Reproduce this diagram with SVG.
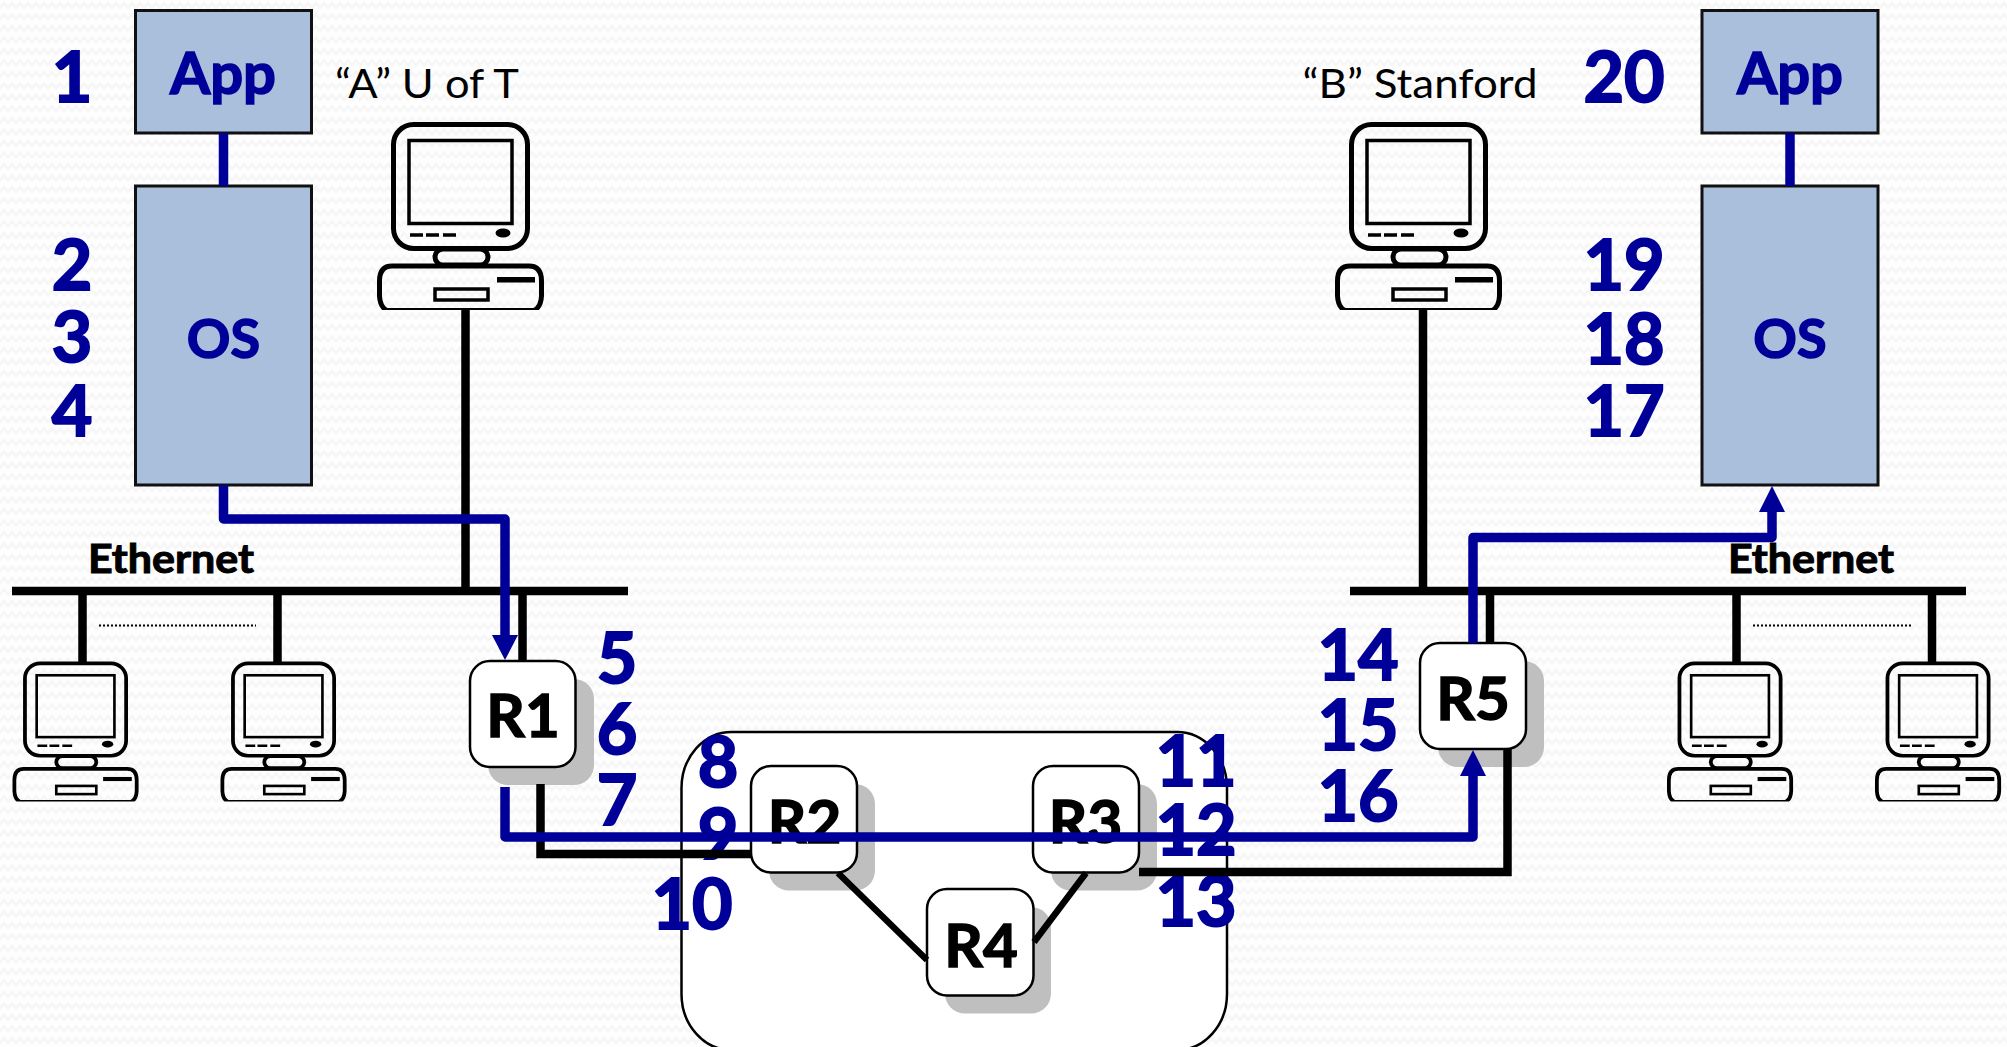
<svg xmlns="http://www.w3.org/2000/svg" width="2007" height="1047" viewBox="0 0 2007 1047">
<style>
text{font-family:Lato,"Liberation Sans",sans-serif}
.n{font-size:70px;font-weight:700;fill:#000099;stroke:#000099;stroke-width:2;text-anchor:middle}
.box{fill:#aabfdc;stroke:#111;stroke-width:3}
.bl{font-weight:700;fill:#000099;stroke:#000099;stroke-width:1.5;text-anchor:middle}
.eth{font-size:40px;font-weight:700;fill:#000;stroke:#000;stroke-width:1;text-anchor:middle}
.lab{font-size:41px;fill:#000;text-anchor:middle}
.rt{font-size:60px;font-weight:700;fill:#000;stroke:#000;stroke-width:1.5;text-anchor:middle}
.rb{fill:#fff;stroke:#000;stroke-width:2.5}
.sh{fill:#bfbfbf;stroke:none}
.k{fill:none;stroke:#000;stroke-width:8.5}
.k2{fill:none;stroke:#000;stroke-width:6.5}
.b{fill:none;stroke:#000099;stroke-width:9.5;stroke-linejoin:round}
.d{fill:none;stroke:#000;stroke-width:2;stroke-dasharray:2 2}
.ah{fill:#000099}
.m{fill:none;stroke:#000;stroke-width:5}
.m1{fill:none;stroke:#000;stroke-width:3.5}
</style>
<defs>
<pattern id="bgp" width="16" height="11.5" patternUnits="userSpaceOnUse">
<rect width="16" height="11.5" fill="#fefefe"/>
<path d="M0 8 L4 3 L8 8 L12 3 L16 8" fill="none" stroke="#f6f6f6" stroke-width="2.5"/>
</pattern>
<clipPath id="pcclip"><rect x="-2" y="-2" width="172" height="190"/></clipPath>
<symbol id="pc" viewBox="0 0 167 188" width="167" height="188" overflow="visible" preserveAspectRatio="none">
<rect class="m" x="58" y="127" width="53" height="16" rx="8" ry="8"/>
<rect class="m" x="16.500" y="2.500" width="134" height="124" rx="20" ry="20"/>
<rect class="m1" x="32" y="18.500" width="103" height="83"/>
<path d="M33 113h13M49 113h13M66 113h13" stroke="#000" stroke-width="3.500" fill="none"/>
<ellipse cx="126" cy="111" rx="7.500" ry="4.500" fill="#000"/>
<path class="m" clip-path="url(#pcclip)" d="M2.500 174 V159 Q2.500 144 15 144 H152 Q164.500 144 164.500 159 V174 Q164 185 157 188.500 H10 Q3 185 2.500 174 Z"/>
<rect class="m1" x="58" y="167" width="53" height="11"/>
<rect x="120" y="155" width="38" height="5.500" fill="#000"/>
</symbol>
</defs>
<rect id="background" width="2007" height="1047" fill="url(#bgp)"/>

<g id="cloud"><rect x="681.500" y="732" width="545.500" height="318" rx="50" ry="56" fill="#fff" stroke="#000" stroke-width="2.500"/></g>

<g id="numbers">
<text class="n" x="72" y="102">1</text>
<text class="n" x="72" y="290">2</text>
<text class="n" x="72" y="362">3</text>
<text class="n" x="72" y="436">4</text>
<text class="n" x="617" y="683">5</text>
<text class="n" x="617" y="754">6</text>
<text class="n" x="617" y="825">7</text>
<text class="n" x="718" y="787">8</text>
<text class="n" x="718" y="859">9</text>
<text class="n" x="692" y="929">10</text>
<text class="n" x="1196" y="786">11</text>
<text class="n" x="1196" y="855">12</text>
<text class="n" x="1196" y="926">13</text>
<text class="n" x="1358" y="680">14</text>
<text class="n" x="1358" y="750">15</text>
<text class="n" x="1358" y="821">16</text>
<text class="n" x="1624" y="436">17</text>
<text class="n" x="1624" y="364">18</text>
<text class="n" x="1624" y="290">19</text>
<text class="n" x="1624" y="102">20</text>
</g>

<g id="app-a"><rect class="box" x="135.500" y="10.500" width="176" height="122.500"/><text class="bl" style="font-size:58px" x="223" y="94">App</text></g>
<g id="os-a"><rect class="box" x="135.500" y="186" width="176" height="299"/><text class="bl" style="font-size:54px" x="223.500" y="358">OS</text></g>
<g id="app-b"><rect class="box" x="1702" y="10.500" width="176" height="122.500"/><text class="bl" style="font-size:58px" x="1790" y="94">App</text></g>
<g id="os-b"><rect class="box" x="1702" y="186" width="176" height="299"/><text class="bl" style="font-size:54px" x="1790" y="358">OS</text></g>

<g id="host-a"><use href="#pc" x="377" y="122"/><text class="lab" x="427" y="98" textLength="184" lengthAdjust="spacingAndGlyphs">“A” U of T</text></g>
<g id="host-b"><use href="#pc" x="1335" y="122"/><text class="lab" x="1420" y="98" textLength="235" lengthAdjust="spacingAndGlyphs">“B” Stanford</text></g>

<g id="host-a1"><use href="#pc" transform="translate(12.500 661.500) scale(.755 .745)"/></g>
<g id="host-a2"><use href="#pc" transform="translate(220.500 661.500) scale(.755 .745)"/></g>
<g id="host-b1"><use href="#pc" transform="translate(1667 661.500) scale(.755 .745)"/></g>
<g id="host-b2"><use href="#pc" transform="translate(1875 661.500) scale(.755 .745)"/></g>

<g id="ethernet-a"><text class="eth" x="171" y="573" textLength="166" lengthAdjust="spacingAndGlyphs">Ethernet</text></g>
<g id="ethernet-b"><text class="eth" x="1811" y="573" textLength="166" lengthAdjust="spacingAndGlyphs">Ethernet</text></g>

<g id="R1"><rect class="sh" x="488" y="679" width="106" height="106" rx="20"/><rect class="rb" x="470" y="661" width="105.500" height="106" rx="20"/><text class="rt" x="523" y="737">R1</text></g>
<g id="R2"><rect class="sh" x="769" y="784" width="106" height="106.500" rx="20"/><rect class="rb" x="751" y="766" width="106" height="106.500" rx="20"/><text class="rt" x="804.500" y="843">R2</text></g>
<g id="R3"><rect class="sh" x="1051" y="784" width="106" height="106.500" rx="20"/><rect class="rb" x="1033" y="766" width="106" height="106.500" rx="20"/><text class="rt" x="1085.500" y="843">R3</text></g>
<g id="R4"><rect class="sh" x="945" y="907" width="106" height="106.500" rx="20"/><rect class="rb" x="927" y="889" width="106.500" height="106.500" rx="20"/><text class="rt" x="981" y="967">R4</text></g>
<g id="R5"><rect class="sh" x="1438" y="661" width="106" height="106" rx="20"/><rect class="rb" x="1420" y="643" width="106" height="106" rx="20"/><text class="rt" x="1473" y="720">R5</text></g>

<g id="connectors">
<path class="k" d="M12 591H628"/>
<path class="k" d="M1350 591H1966"/>
<path class="k" d="M82.500 591V662M277.500 591V662M465.500 310V591M522.500 591V661"/>
<path class="k" d="M1423 310V591M1490 591V643M1736.500 591V662M1932 591V662"/>
<path class="d" d="M99 625.500H256M1753 625.500H1911"/>
<path class="k" d="M540.500 784V854H752"/>
<path class="k" d="M1139 872H1507.500V749"/>
<path class="k2" d="M838 873L927 960M1086 873L1034 942"/>
<path class="b" d="M223.500 133V186"/>
<path class="b" d="M1790 133V186"/>
<path class="b" d="M223.500 485V519H505V640"/>
<polygon class="ah" points="492,635 518,635 505,660"/>
<path class="b" d="M505 787V837H1473V770"/>
<polygon class="ah" points="1460,776 1486,776 1473,750"/>
<path class="b" d="M1473 643V537.500H1772V508"/>
<polygon class="ah" points="1759,512 1785,512 1772,486"/>
</g>
</svg>
